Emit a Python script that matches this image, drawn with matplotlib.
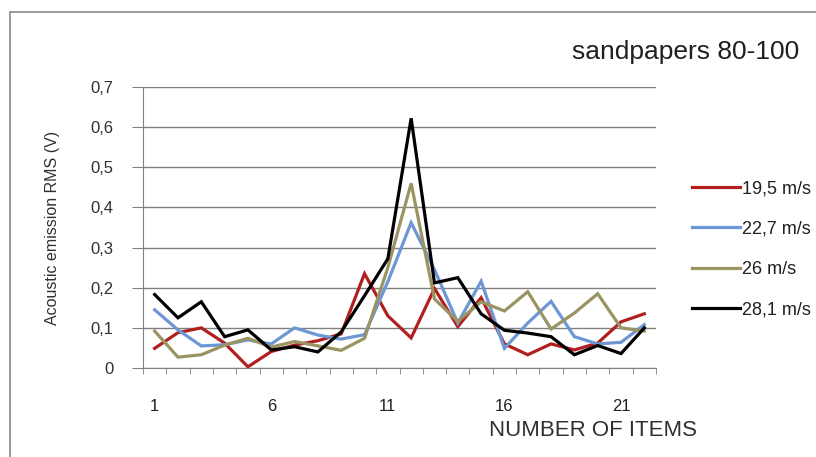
import matplotlib
matplotlib.use("Agg")
import matplotlib.pyplot as plt
from matplotlib.patches import Rectangle
import numpy as np

items = list(range(1, 23))
labels = ["19,5 m/s", "22,7 m/s", "26 m/s", "28,1 m/s"]
colors = ["#B21F1F", "#6D97D4", "#9A9362", "#000000"]

v195 = [0.049, 0.088, 0.100, 0.062, 0.003, 0.041, 0.057, 0.068, 0.085, 0.235,
        0.130, 0.075, 0.198, 0.103, 0.175, 0.060, 0.033, 0.060, 0.045, 0.062,
        0.115, 0.135]
v227 = [0.145, 0.095, 0.055, 0.058, 0.070, 0.060, 0.100, 0.082, 0.072, 0.083,
        0.215, 0.362, 0.245, 0.112, 0.216, 0.049, 0.112, 0.166, 0.078, 0.060,
        0.064, 0.108]
v26 = [0.092, 0.027, 0.033, 0.057, 0.074, 0.052, 0.066, 0.055, 0.044, 0.074,
       0.250, 0.460, 0.172, 0.116, 0.165, 0.142, 0.190, 0.097, 0.137, 0.185,
       0.100, 0.092]
v281 = [0.183, 0.125, 0.165, 0.078, 0.095, 0.045, 0.053, 0.040, 0.090, 0.180,
        0.272, 0.622, 0.212, 0.225, 0.135, 0.094, 0.087, 0.078, 0.033, 0.056,
        0.036, 0.100]
series = [v195, v227, v26, v281]

yticks = [0, 0.1, 0.2, 0.3, 0.4, 0.5, 0.6, 0.7]
ytick_labels = ["0", "0,1", "0,2", "0,3", "0,4", "0,5", "0,6", "0,7"]
xtick_vals = [1, 6, 11, 16, 21]

plt.rcParams['font.family'] = ['Liberation Sans', 'DejaVu Sans']

fig = plt.figure(figsize=(8.16, 4.57), dpi=100)
fig.patch.set_facecolor("white")

# outer chart border
fig.add_artist(Rectangle((10/816, -0.05), 1.0, (457-12)/457 + 0.05,
                         transform=fig.transFigure, fill=False,
                         edgecolor="#8a8a8a", linewidth=1.2))

ax = fig.add_axes([143/816, (457-368)/457, 513/816, (368-87)/457])

for vals, lab, col in zip(series, labels, colors):
    ax.plot(items, vals, color=col, lw=2.3, label=lab, solid_joinstyle="miter")

ax.set_xlim(0.5, 22.5)
ax.set_ylim(0, 0.7)
ax.set_yticks(yticks)
ax.set_yticklabels(ytick_labels, fontsize=12, color="#303030")
ax.yaxis.grid(True, color="#808080", lw=1.0)
ax.set_axisbelow(True)
ax.tick_params(axis="y", length=8, color="#808080", pad=13)

ax.set_xticks(xtick_vals)
ax.set_xticklabels([str(v) for v in xtick_vals], fontsize=12, color="#202020")
ax.set_xticks(np.arange(0.5, 23.0, 1.0), minor=True)
ax.tick_params(axis="x", which="major", length=0, pad=22)
ax.tick_params(axis="x", which="minor", length=4, color="#808080", direction="out")

for s in ["top", "right"]:
    ax.spines[s].set_visible(False)
ax.spines["left"].set_color("#808080")
ax.spines["bottom"].set_color("#808080")

ax.set_ylabel("Acoustic emission RMS (V)", fontsize=11.5, color="#303030", labelpad=22)
fig.text(489/816, 1 - 430/457, "NUMBER OF ITEMS", fontsize=16, color="#303030",
         ha="left", va="center")
fig.text(572/816, 1 - 52/457, "sandpapers 80-100", fontsize=19, color="#202020",
         ha="left", va="center")

leg = ax.legend(loc="upper left", bbox_to_anchor=(676/816, 1 - 164/457),
                bbox_transform=fig.transFigure, frameon=False, fontsize=13,
                handlelength=2.65, handletextpad=0.12, labelspacing=1.3)
for t in leg.get_texts():
    t.set_color("#202020")

fig.savefig("out.png", dpi=100)
